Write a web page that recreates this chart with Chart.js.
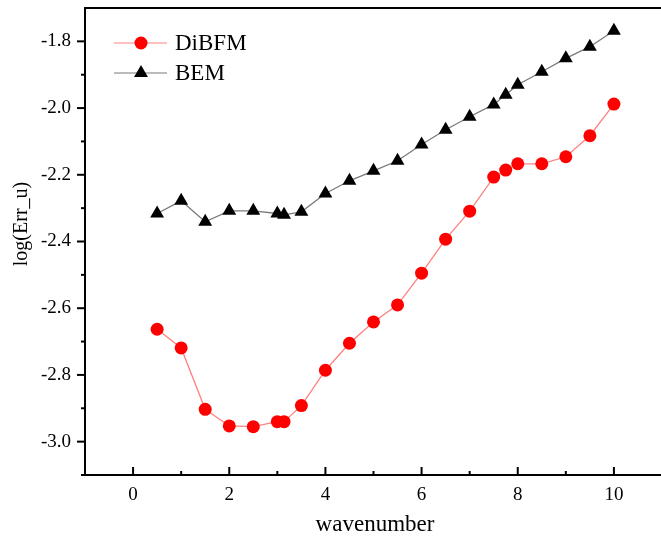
<!DOCTYPE html>
<html><head><meta charset="utf-8">
<script src="https://cdn.jsdelivr.net/npm/chart.js@4.4.1/dist/chart.umd.min.js"></script>
<style>
html,body{margin:0;padding:0;overflow:hidden;background:#fff;width:661px;height:544px}
#wrap{position:relative;width:670px;height:544px}
</style>
</head><body><div id="wrap"><canvas id="c" width="670" height="544"></canvas></div>
<script>
const wavenumber = [0.5,1,1.5,2,2.5,3,3.14,3.5,4,4.5,5,5.5,6,6.5,7,7.5,7.75,8,8.5,9,9.5,10];
const dibfm = [-2.663,-2.719,-2.903,-2.953,-2.955,-2.940,-2.940,-2.892,-2.786,-2.705,-2.641,-2.590,-2.495,-2.393,-2.309,-2.207,-2.186,-2.167,-2.167,-2.146,-2.083,-1.988];
const bem = [-2.316,-2.278,-2.341,-2.308,-2.308,-2.316,-2.320,-2.311,-2.256,-2.218,-2.188,-2.158,-2.109,-2.065,-2.026,-1.989,-1.960,-1.930,-1.891,-1.851,-1.816,-1.768];
const xTicks = [0,2,4,6,8,10];
const xMinorTicks = [1,3,5,7,9];
const yTicks = [-3.0,-2.8,-2.6,-2.4,-2.2,-2.0,-1.8];
const yMinorTicks = [-3.1,-2.9,-2.7,-2.5,-2.3,-2.1,-1.9];
const seriesNames = ['DiBFM','BEM'];
const xTitle = 'wavenumber';
const yTitle = 'log(Err_u)';

const FONT = '"Liberation Serif","Times New Roman",serif';
const RED = '#ff0000';
const RED_LINE = '#ff8080';
const BLK_LINE = '#7a7a7a';

function pts(ys){ return wavenumber.map((x,i)=>({x:x,y:ys[i]})); }

const decor = {
  id:'decor',
  afterDraw(chart){
    const ctx = chart.ctx, ca = chart.chartArea;
    const xs = chart.scales.x, ys = chart.scales.y;
    ctx.save();
    ctx.strokeStyle = '#000';
    ctx.lineWidth = 2;
    ctx.beginPath(); ctx.moveTo(ca.left-1, ca.top); ctx.lineTo(ca.right+5, ca.top); ctx.stroke();
    xTicks.forEach(v=>{const p=xs.getPixelForValue(v); ctx.beginPath(); ctx.moveTo(p, ca.bottom); ctx.lineTo(p, ca.bottom-8); ctx.stroke();});
    xMinorTicks.forEach(v=>{const p=xs.getPixelForValue(v); ctx.beginPath(); ctx.moveTo(p, ca.bottom); ctx.lineTo(p, ca.bottom-4); ctx.stroke();});
    yTicks.forEach(v=>{const p=ys.getPixelForValue(v); ctx.beginPath(); ctx.moveTo(ca.left, p); ctx.lineTo(ca.left-8, p); ctx.stroke();});
    yMinorTicks.forEach(v=>{const p=ys.getPixelForValue(v); ctx.beginPath(); ctx.moveTo(ca.left, p); ctx.lineTo(ca.left-4, p); ctx.stroke();});
    ctx.fillStyle = '#000';
    ctx.textAlign = 'center'; ctx.textBaseline = 'middle';
    ctx.font = '23px ' + FONT;
    ctx.fillText(xTitle, 375, 525);
    ctx.save();
    ctx.translate(22, 224); ctx.rotate(-Math.PI/2);
    ctx.font = '20px ' + FONT;
    ctx.fillText(yTitle, 0, 0);
    ctx.restore();
    const lx0 = ca.left + 29, lx1 = ca.left + 82, mx = ca.left + 56, tx = ca.left + 90;
    const rows = [ca.top + 35, ca.top + 65];
    ctx.font = '23px ' + FONT; ctx.textAlign='left'; ctx.textBaseline='middle';
    ctx.lineWidth = 1.2; ctx.strokeStyle = RED_LINE;
    ctx.beginPath(); ctx.moveTo(lx0, rows[0]); ctx.lineTo(lx1, rows[0]); ctx.stroke();
    ctx.fillStyle = RED; ctx.beginPath(); ctx.arc(mx, rows[0], 6.5, 0, Math.PI*2); ctx.fill();
    ctx.fillStyle = '#000'; ctx.fillText(seriesNames[0], tx, rows[0]+1);
    ctx.strokeStyle = BLK_LINE;
    ctx.beginPath(); ctx.moveTo(lx0, rows[1]); ctx.lineTo(lx1, rows[1]); ctx.stroke();
    const r = 8;
    ctx.fillStyle = '#000'; ctx.beginPath();
    ctx.moveTo(mx, rows[1]-r); ctx.lineTo(mx + r*Math.sin(2*Math.PI/3), rows[1]-r*Math.cos(2*Math.PI/3)); ctx.lineTo(mx - r*Math.sin(2*Math.PI/3), rows[1]-r*Math.cos(2*Math.PI/3)); ctx.closePath(); ctx.fill();
    ctx.fillText(seriesNames[1], tx, rows[1]+1);
    ctx.restore();
  }
};

new Chart(document.getElementById('c'), {
  type:'line',
  data:{datasets:[
    {label:seriesNames[0], data:pts(dibfm), borderColor:RED_LINE, borderWidth:1.3, backgroundColor:RED,
     pointStyle:'circle', pointRadius:6.5, pointBackgroundColor:RED, pointBorderColor:RED, pointBorderWidth:0, tension:0},
    {label:seriesNames[1], data:pts(bem), borderColor:BLK_LINE, borderWidth:1.3, backgroundColor:'#000',
     pointStyle:'triangle', pointRadius:8, pointBackgroundColor:'#000', pointBorderColor:'#000', pointBorderWidth:0, tension:0}
  ]},
  options:{
    responsive:false, animation:false, devicePixelRatio:1,
    layout:{padding:{top:8,right:5,left:0,bottom:0}},
    plugins:{legend:{display:false}, tooltip:{enabled:false}},
    scales:{
      x:{type:'linear', min:-1, max:11,
         afterBuildTicks:s=>{s.ticks = xTicks.map(v=>({value:v}));},
         afterFit:s=>{s.height = 69; s.paddingLeft = 0; s.paddingRight = 0;},
         grid:{display:true, drawOnChartArea:false, drawTicks:false},
         border:{display:true, color:'#000', width:2},
         ticks:{padding:9, color:'#000', font:{family:FONT, size:19}, maxRotation:0, autoSkip:false, callback:v=>String(v)}},
      y:{type:'linear', min:-3.1, max:-1.7,
         afterBuildTicks:s=>{s.ticks = yTicks.map(v=>({value:v}));},
         afterFit:s=>{s.width = 85; s.paddingTop = 0; s.paddingBottom = 0;},
         grid:{display:true, drawOnChartArea:false, drawTicks:false},
         border:{display:true, color:'#000', width:2},
         ticks:{padding:14, color:'#000', font:{family:FONT, size:19}, autoSkip:false, callback:v=>Number(v).toFixed(1)}}
    }
  },
  plugins:[decor]
});
</script>
</body></html>
